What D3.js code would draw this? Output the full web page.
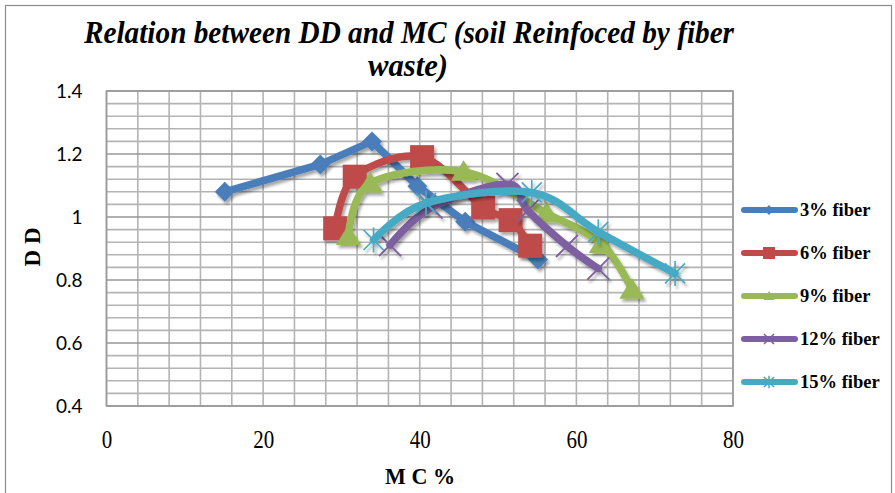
<!DOCTYPE html>
<html>
<head>
<meta charset="utf-8">
<script src="https://cdn.jsdelivr.net/npm/d3@7"></script>
<style>
  html, body { margin: 0; padding: 0; background: #fff; }
  svg { display: block; }
</style>
</head>
<body>
<svg id="chart" width="895" height="493"></svg>
<script>
// Dry density (DD) against moisture content (MC %) for fibre-reinforced soil
const seriesNames = ["3% fiber", "6% fiber", "9% fiber", "12% fiber", "15% fiber"];
const mc3  = [15.1, 27.3, 33.9, 39.7, 45.8, 55.1];
const dd3  = [1.080, 1.167, 1.240, 1.098, 0.985, 0.865];
const mc6  = [29.2, 31.7, 40.3, 48.1, 51.6, 54.1];
const dd6  = [0.964, 1.128, 1.190, 1.030, 0.990, 0.909];
const mc9  = [30.9, 33.7, 45.6, 56.2, 63.2, 67.1];
const dd9  = [0.940, 1.107, 1.144, 1.012, 0.915, 0.770];
const mc12 = [36.2, 41.5, 51.2, 53.8, 58.8, 62.8];
const dd12 = [0.911, 1.030, 1.105, 1.020, 0.908, 0.836];
const mc15 = [34.1, 40.8, 54.3, 62.8, 72.6];
const dd15 = [0.927, 1.044, 1.078, 0.953, 0.821];
const xTicks = [0, 20, 40, 60, 80];
const yTicks = [0.4, 0.6, 0.8, 1.0, 1.2, 1.4];
const yTickLabels = ["0.4", "0.6", "0.8", "1", "1.2", "1.4"];

const colors = ["#4a7ebb", "#be4b48", "#98b954", "#7d60a0", "#46aac5"];
const markers = ["diamond", "square", "triangle", "cross", "star"];
const smooth = [false, true, true, true, true];
const mcs = [mc3, mc6, mc9, mc12, mc15];
const dds = [dd3, dd6, dd9, dd12, dd15];
const series = seriesNames.map((name, i) => ({
  name, color: colors[i], marker: markers[i], smooth: smooth[i],
  points: mcs[i].map((m, j) => ({ x: m, y: dds[i][j] }))
}));

const svg = d3.select("#chart");
const defs = svg.append("defs");
const shadow = defs.append("filter").attr("id", "shade")
  .attr("x", "-20%").attr("y", "-20%").attr("width", "140%").attr("height", "140%");
shadow.append("feDropShadow").attr("dx", 2).attr("dy", 3)
  .attr("stdDeviation", 1.8).attr("flood-color", "#000").attr("flood-opacity", 0.35);

// outer chart frame
svg.append("rect").attr("x", 5.5).attr("y", 5.5).attr("width", 886).attr("height", 500)
  .attr("fill", "none").attr("stroke", "#8c8c8c").attr("stroke-width", 1.2);

const x = d3.scaleLinear().domain([0, 80]).range([106.5, 733]);
const y = d3.scaleLinear().domain([0.4, 1.4]).range([406, 91]);

// grid
const grid = svg.append("g");
grid.selectAll("line.v").data(d3.range(0, 81, 4)).join("line")
  .attr("x1", d => x(d)).attr("x2", d => x(d))
  .attr("y1", y(1.4)).attr("y2", y(0.4))
  .attr("stroke", "#b4b4b4").attr("stroke-width", 1.6);
grid.selectAll("line.h").data(d3.range(0, 26)).join("line")
  .attr("x1", x(0)).attr("x2", x(80))
  .attr("y1", k => y(0.4 + k * 0.04)).attr("y2", k => y(0.4 + k * 0.04))
  .attr("stroke", k => (k % 5 === 0 ? "#979797" : "#b4b4b4"))
  .attr("stroke-width", 1.6);
svg.append("rect").attr("x", x(0)).attr("y", y(1.4))
  .attr("width", x(80) - x(0)).attr("height", y(0.4) - y(1.4))
  .attr("fill", "none").attr("stroke", "#9a9a9a").attr("stroke-width", 1.6);

// axes (labels only; the frame and grid draw the lines)
const xAxis = svg.append("g").attr("transform", `translate(0,${y(0.4)})`)
  .call(d3.axisBottom(x).tickValues(xTicks).tickSize(0).tickPadding(24));
xAxis.select(".domain").remove();
xAxis.selectAll("text")
  .attr("font-family", "'Liberation Serif', 'Times New Roman', serif")
  .attr("font-size", 25).attr("fill", "#000");
xAxis.selectAll(".tick text").each(function () {
  const t = d3.select(this);
  t.attr("textLength", t.text().length * 10.5).attr("lengthAdjust", "spacingAndGlyphs");
});

const yAxis = svg.append("g").attr("transform", `translate(${x(0)},0)`)
  .call(d3.axisLeft(y).tickValues(yTicks).tickSize(0).tickPadding(24)
    .tickFormat((d, i) => yTickLabels[i]));
yAxis.select(".domain").remove();
yAxis.selectAll("text")
  .attr("font-family", "Lato, 'Open Sans', sans-serif")
  .attr("font-size", 19).attr("fill", "#000");

// title
const title = svg.append("g")
  .attr("font-family", "'Liberation Serif', 'Times New Roman', serif")
  .attr("font-weight", "bold").attr("font-style", "italic")
  .attr("font-size", 31).attr("fill", "#000");
title.append("text").attr("x", 84).attr("y", 43)
  .attr("textLength", 650).attr("lengthAdjust", "spacingAndGlyphs")
  .text("Relation between DD and MC (soil Reinfoced by fiber");
title.append("text").attr("x", 368).attr("y", 76)
  .attr("textLength", 80).attr("lengthAdjust", "spacingAndGlyphs")
  .text("waste)");

// axis titles
svg.append("text").attr("transform", "translate(40,247) rotate(-90)")
  .attr("text-anchor", "middle")
  .attr("font-family", "'Liberation Serif', 'Times New Roman', serif")
  .attr("font-weight", "bold").attr("font-size", 23).attr("fill", "#000")
  .text("D D");
svg.append("text").attr("x", 420).attr("y", 484)
  .attr("text-anchor", "middle")
  .attr("font-family", "'Liberation Serif', 'Times New Roman', serif")
  .attr("font-weight", "bold").attr("font-size", 23).attr("fill", "#000")
  .attr("textLength", 70).attr("lengthAdjust", "spacingAndGlyphs")
  .text("M C %");

// marker drawing helper
function drawMarker(g, type, color, s) {
  if (type === "diamond") {
    g.append("path").attr("d", `M0,${-s}L${s},0L0,${s}L${-s},0Z`).attr("fill", color);
  } else if (type === "square") {
    g.append("rect").attr("x", -s).attr("y", -s).attr("width", 2 * s).attr("height", 2 * s)
      .attr("fill", color);
  } else if (type === "triangle") {
    g.append("path").attr("d", `M0,${-s}L${s * 1.1},${s * 0.8}L${-s * 1.1},${s * 0.8}Z`)
      .attr("fill", color);
  } else if (type === "cross") {
    g.append("path").attr("d", `M${-s},${-s}L${s},${s}M${s},${-s}L${-s},${s}`)
      .attr("stroke", color).attr("stroke-width", Math.max(1.5, s / 6)).attr("fill", "none");
  } else if (type === "star") {
    g.append("path").attr("d",
      `M${-s},${-s}L${s},${s}M${s},${-s}L${-s},${s}M0,${-s * 1.25}L0,${s * 1.25}`)
      .attr("stroke", color).attr("stroke-width", Math.max(1.5, s / 6)).attr("fill", "none");
  }
}
const markerSize = { diamond: 10, square: 12, triangle: 11.5, cross: 11, star: 10 };

// series
const plot = svg.append("g");
series.forEach(s => {
  const g = plot.append("g").attr("filter", "url(#shade)");
  const line = d3.line().x(d => x(d.x)).y(d => y(d.y))
    .curve(s.smooth ? d3.curveCatmullRom.alpha(0) : d3.curveLinear);
  g.append("path").attr("d", line(s.points))
    .attr("fill", "none").attr("stroke", s.color).attr("stroke-width", 7.5)
    .attr("stroke-linejoin", "round").attr("stroke-linecap", "round");
  s.points.forEach(p => {
    const m = g.append("g").attr("transform", `translate(${x(p.x)},${y(p.y)})`);
    drawMarker(m, s.marker, s.color, markerSize[s.marker]);
  });
});

// legend
const legend = svg.append("g");
series.forEach((s, i) => {
  const ly = 210 + i * 43;
  const lg = legend.append("g");
  lg.append("line").attr("x1", 744).attr("x2", 795).attr("y1", ly).attr("y2", ly)
    .attr("stroke", s.color).attr("stroke-width", 6).attr("stroke-linecap", "round");
  const m = lg.append("g").attr("transform", `translate(769,${ly})`);
  drawMarker(m, s.marker, s.color, s.marker === "square" ? 6 : 5);
  lg.append("text").attr("x", 800).attr("y", ly + 6)
    .attr("font-family", "'Liberation Serif', 'Times New Roman', serif")
    .attr("font-weight", "bold").attr("font-size", 18.5).attr("fill", "#000")
    .text(s.name);
});
</script>
</body>
</html>
